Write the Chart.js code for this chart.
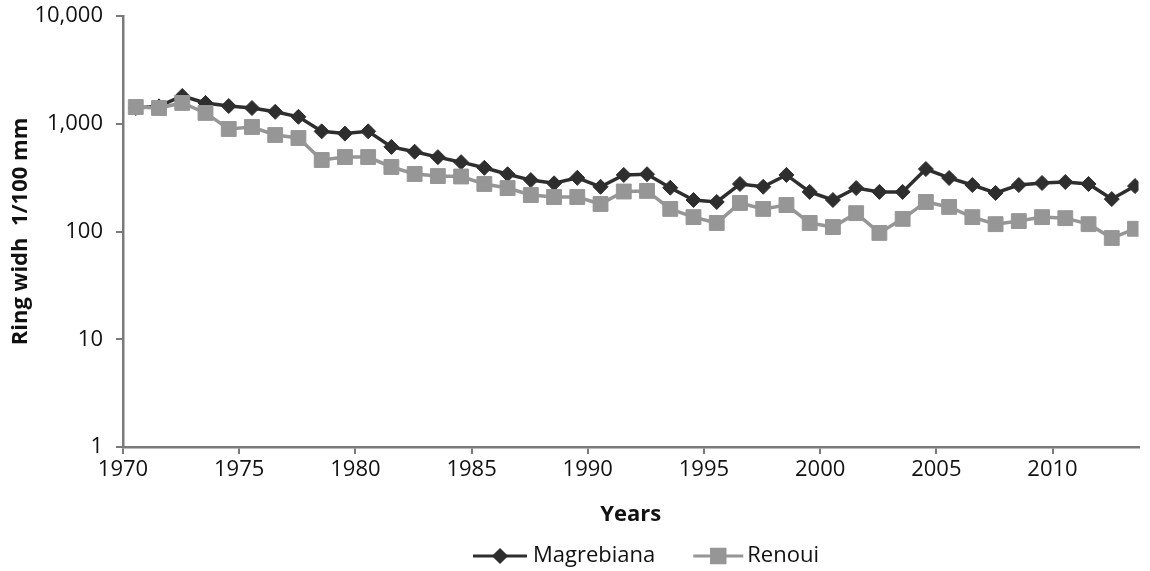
<!DOCTYPE html>
<html>
<head>
<meta charset="utf-8">
<script src="https://cdn.jsdelivr.net/npm/chart.js@4/dist/chart.umd.min.js"></script>
<style>
  html, body { margin: 0; padding: 0; background: #ffffff; }
  #wrap { width: 1150px; height: 571px; position: relative; }
  canvas { display: block; }
</style>
</head>
<body>
<div id="wrap"><canvas id="c" width="1150" height="571"></canvas></div>
<script>
// ---- data ----
const years = [1970,1971,1972,1973,1974,1975,1976,1977,1978,1979,
               1980,1981,1982,1983,1984,1985,1986,1987,1988,1989,
               1990,1991,1992,1993,1994,1995,1996,1997,1998,1999,
               2000,2001,2002,2003,2004,2005,2006,2007,2008,2009,
               2010,2011,2012,2013];
const magrebiana = [1400,1450,1810,1560,1460,1400,1290,1160,850,810,
                    850,610,550,490,440,390,340,300,280,315,
                    260,335,340,255,196,188,276,260,335,233,
                    196,253,233,233,380,314,270,228,270,282,
                    288,276,200,264];
const renoui = [1430,1400,1560,1260,894,933,786,737,461,491,
                491,397,342,327,324,276,253,218,209,209,
                180,235,238,162,136,120,184,162,176,120,
                110,148,97,131,188,169,136,117,125,136,
                133,117,87,106];
const xTickLabels = [1970,1975,1980,1985,1990,1995,2000,2005,2010];
const yTickValues = [1,10,100,1000,10000];
const seriesNames = ['Magrebiana','Renoui'];
const xTitle = 'Years';
const yTitle = 'Ring widh  1/100 mm';

// ---- styles ----
const FONT = 'Open Sans';
const TEXT = '#111111';
const AXIS = '#7a7a7a';
const COLORS = ['#2e2e2e', '#969696'];

const legendPlugin = {
  id: 'lineMarkerLegend',
  afterDraw(chart) {
    const ctx = chart.ctx;
    const y = 556;
    const items = [
      {name: seriesNames[0], color: COLORS[0], style: 'rectRot', r: 6, sample: 54, gap: 6},
      {name: seriesNames[1], color: COLORS[1], style: 'rect', r: 9.5, sample: 50, gap: 4}
    ];
    ctx.save();
    ctx.font = '22px "' + FONT + '"';
    const spacing = 38;
    let total = 0;
    items.forEach((it, i) => {
      it.tw = ctx.measureText(it.name).width;
      total += it.sample + it.gap + it.tw + (i ? spacing : 0);
    });
    let x = 646 - total / 2;
    items.forEach((it) => {
      ctx.strokeStyle = it.color;
      ctx.fillStyle = it.color;
      ctx.lineWidth = 3;
      ctx.beginPath();
      ctx.moveTo(x, y);
      ctx.lineTo(x + it.sample, y);
      ctx.stroke();
      Chart.helpers.drawPoint(ctx, {pointStyle: it.style, radius: it.r, borderWidth: 1, rotation: 0}, x + it.sample / 2, y);
      ctx.fillStyle = TEXT;
      ctx.textBaseline = 'middle';
      ctx.textAlign = 'left';
      ctx.fillText(it.name, x + it.sample + it.gap, y);
      x += it.sample + it.gap + it.tw + spacing;
    });
    ctx.restore();
  }
};

function build() {
  const ctx = document.getElementById('c').getContext('2d');
  new Chart(ctx, {
    type: 'line',
    data: {
      datasets: [
        {
          label: seriesNames[0],
          data: years.map((yr, i) => ({x: yr + 0.55, y: magrebiana[i]})),
          borderColor: COLORS[0], backgroundColor: COLORS[0],
          borderWidth: 3.5, tension: 0,
          pointStyle: 'rectRot', pointRadius: 7.5, pointBorderWidth: 1,
          pointBackgroundColor: COLORS[0], pointBorderColor: COLORS[0],
          order: 2
        },
        {
          label: seriesNames[1],
          data: years.map((yr, i) => ({x: yr + 0.55, y: renoui[i]})),
          borderColor: COLORS[1], backgroundColor: COLORS[1],
          borderWidth: 3.5, tension: 0,
          pointStyle: 'rect', pointRadius: 10.5, pointBorderWidth: 1,
          pointBackgroundColor: COLORS[1], pointBorderColor: COLORS[1],
          order: 1
        }
      ]
    },
    options: {
      responsive: false,
      animation: false,
      events: [],
      layout: {padding: {top: 16, right: 0, bottom: 37, left: 0}},
      plugins: {legend: {display: false}, tooltip: {enabled: false}},
      scales: {
        x: {
          type: 'linear', min: 1970, max: 2013.7,
          afterBuildTicks: (s) => { s.ticks = xTickLabels.map(v => ({value: v})); },
          afterFit: (s) => { s.height = 87; },
          ticks: {
            callback: (v) => String(v),
            font: {family: FONT, size: 22}, color: TEXT,
            padding: 3, maxRotation: 0, autoSkip: false
          },
          grid: {drawOnChartArea: false, drawTicks: true, tickLength: 7, color: AXIS, lineWidth: 2},
          border: {display: true, color: AXIS, width: 2.5},
          title: {display: true, text: xTitle, color: TEXT,
                  font: {family: FONT, size: 22, weight: 'bold'},
                  padding: {top: 0, bottom: 6}}
        },
        y: {
          type: 'logarithmic', min: 1, max: 10000,
          afterBuildTicks: (s) => { s.ticks = yTickValues.map(v => ({value: v})); },
          afterFit: (s) => { s.width = 123; s.paddingTop = 0; s.paddingBottom = 0; },
          ticks: {
            callback: (v) => Number(v).toLocaleString('en-US'),
            font: {family: FONT, size: 22}, color: TEXT,
            padding: 13, autoSkip: false
          },
          grid: {drawOnChartArea: false, drawTicks: true, tickLength: 7, color: AXIS, lineWidth: 2},
          border: {display: true, color: AXIS, width: 2.5},
          title: {display: true, text: yTitle, color: TEXT,
                  font: {family: FONT, size: 22, weight: 'bold'},
                  padding: {top: 8, bottom: 0}}
        }
      }
    },
    plugins: [legendPlugin]
  });
}

const fontLoads = document.fonts ? Promise.all([
  document.fonts.load('22px "' + FONT + '"'),
  document.fonts.load('bold 22px "' + FONT + '"')
]).catch(() => {}) : Promise.resolve();
fontLoads.then(build, build);
</script>
</body>
</html>
